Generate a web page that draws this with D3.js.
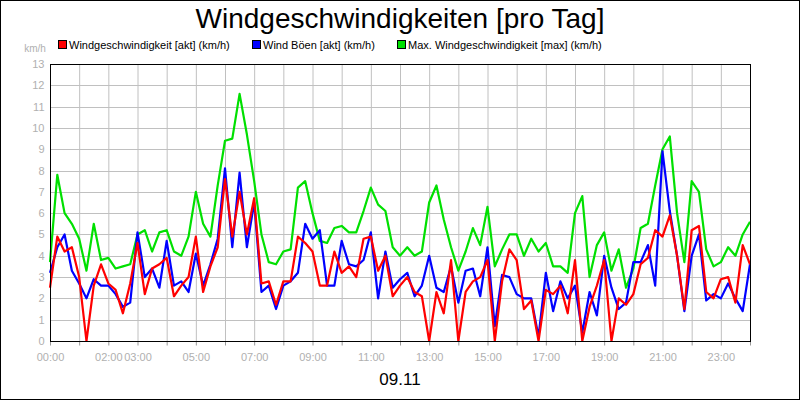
<!DOCTYPE html>
<html><head><meta charset="utf-8">
<script src="https://cdn.jsdelivr.net/npm/d3@7"></script>
<style>body{margin:0;background:#fff}svg{font-family:"Liberation Sans",Arial,sans-serif}</style>
</head><body><svg width="800" height="400"></svg>
<script>
// values every 15 minutes, 00:00 .. 24:00
const tickLabels = ["00:00","02:00","03:00","05:00","07:00","09:00","11:00","13:00","15:00","17:00","19:00","21:00","23:00"];
const tickHours = [0,2,3,5,7,9,11,13,15,17,19,21,23];
const windAkt = [2.5,4.9,4.2,4.4,3.0,0,2.6,3.6,2.7,2.4,1.3,2.7,4.6,2.2,3.4,3.6,3.9,2.1,2.6,3.0,4.9,2.3,3.5,4.4,7.6,4.9,7.0,5.0,6.7,2.7,2.8,1.7,2.8,2.8,4.9,4.6,4.2,2.6,2.6,4.2,3.2,3.5,3.0,4.8,4.9,3.3,4.0,2.1,
  2.6,3.0,2.3,2.1,0,2.3,1.3,3.8,0,2.3,2.8,3.0,3.8,0,2.8,4.3,3.8,1.5,1.9,0,2.4,2.2,2.6,1.3,3.8,0,1.6,2.6,3.8,0,2.0,1.7,2.2,3.6,3.9,5.2,4.9,5.9,4.0,1.5,5.2,5.4,2.3,2.0,2.9,3.0,1.8,4.5,3.6];
const windBoeen = [3.2,4.4,5.0,3.3,2.7,2.0,2.9,2.6,2.6,2.2,1.6,1.8,5.1,3.0,3.4,2.5,4.7,2.6,2.8,2.3,4.1,2.6,3.6,4.8,8.1,4.4,7.9,4.4,6.5,2.3,2.6,1.5,2.6,2.8,3.2,5.5,4.8,5.2,2.6,2.6,4.7,3.6,3.5,3.8,5.1,2.0,4.2,2.5,
  2.9,3.2,2.1,2.6,4.0,2.5,2.3,3.5,1.8,3.3,3.4,2.1,4.4,0.7,3.1,3.0,2.2,2.0,2.0,0.2,3.2,1.4,2.8,2.0,2.6,0.4,2.3,1.2,4.0,2.5,1.5,1.8,3.7,3.7,4.5,2.6,8.9,6.1,4.0,1.4,4.0,5.0,1.9,2.2,2.0,2.7,2.0,1.4,3.6];
const windMax = [3.7,7.8,6.0,5.5,4.8,3.3,5.5,3.8,3.9,3.4,3.5,3.6,5.0,5.2,4.2,5.1,5.2,4.2,4.0,4.9,7.0,5.5,4.9,7.3,9.4,9.5,11.6,9.7,7.5,5.0,3.7,3.6,4.2,4.3,7.2,7.5,6.0,4.7,4.6,5.3,5.4,5.1,5.1,6.1,7.2,6.4,6.1,4.4,
  4.0,4.4,4.0,4.2,6.5,7.3,5.7,4.4,3.3,4.2,5.3,4.5,6.3,3.5,4.3,5.0,5.0,4.0,4.8,4.2,4.6,3.5,3.5,3.2,6.0,6.8,3.0,4.5,5.1,3.3,4.3,2.5,3.4,5.3,5.5,7.3,9.0,9.6,6.0,3.7,7.5,7.0,4.3,3.5,3.7,4.4,4.0,5.0,5.6];

const svg = d3.select("svg");
svg.append("rect").attr("x",0.5).attr("y",0.5).attr("width",799).attr("height",399).attr("fill","#fff").attr("stroke","#000");
svg.append("text").attr("x",400).attr("y",28).attr("text-anchor","middle").attr("font-size",28).text("Windgeschwindigkeiten [pro Tag]");

const x = d3.scaleLinear().domain([0,24]).range([50,750]);
const y = d3.scaleLinear().domain([0,13]).range([341,64]);

// grid
svg.append("g").selectAll("line").data(d3.range(1,24)).join("line")
  .attr("x1",d=>x(d)+0.5).attr("x2",d=>x(d)+0.5).attr("y1",64).attr("y2",341).attr("stroke","#c0c0c0");
svg.append("g").selectAll("line").data(d3.range(1,13)).join("line")
  .attr("y1",d=>Math.round(y(d))+0.5).attr("y2",d=>Math.round(y(d))+0.5).attr("x1",50).attr("x2",750).attr("stroke","#c0c0c0");

// axes
const yAxis = svg.append("g").attr("transform","translate(50.5,0)")
  .call(d3.axisLeft(y).ticks(13).tickSize(0).tickPadding(6));
yAxis.select(".domain").remove();
yAxis.selectAll("text").attr("fill","#b0b0b0").attr("font-size",11).attr("font-family","Liberation Sans,Arial");
const xAxis = svg.append("g").attr("transform","translate(0,341.5)")
  .call(d3.axisBottom(x).tickValues(d3.range(0,25)).tickSize(4).tickFormat(d=>{const i=tickHours.indexOf(d);return i<0?"":tickLabels[i];}));
xAxis.select(".domain").remove();
xAxis.selectAll("line").attr("stroke","#999");
xAxis.selectAll("text").attr("fill","#b0b0b0").attr("font-size",11).attr("font-family","Liberation Sans,Arial").attr("dy","1.1em");
svg.append("text").attr("x",35).attr("y",52).attr("text-anchor","middle").attr("font-size",10).attr("fill","#b0b0b0").text("km/h");

// lines
const line = d3.line().x((d,i)=>x(i/4)).y(d=>y(d));
[[windMax,"#00e000"],[windBoeen,"#0000ff"],[windAkt,"#ff0000"]].forEach(([data,c])=>{
  svg.append("path").datum(data).attr("d",line).attr("fill","none").attr("stroke",c).attr("stroke-width",2.2).attr("stroke-linejoin","round");
});
svg.append("rect").attr("x",50.5).attr("y",64.5).attr("width",700).attr("height",277).attr("fill","none").attr("stroke","#000");

// legend
const legend = [["Windgeschwindigkeit [akt] (km/h)","#ff0000",58],["Wind Böen [akt] (km/h)","#0000ff",252],["Max. Windgeschwindigkeit [max] (km/h)","#00e000",397]];
legend.forEach(([t,c,lx])=>{
  svg.append("rect").attr("x",lx+0.5).attr("y",40.5).attr("width",8).attr("height",8).attr("fill",c).attr("stroke","#000");
  svg.append("text").attr("x",lx+11).attr("y",49).attr("font-size",11).text(t);
});
svg.append("text").attr("x",400).attr("y",385).attr("text-anchor","middle").attr("font-size",17).text("09.11");
</script></body></html>
